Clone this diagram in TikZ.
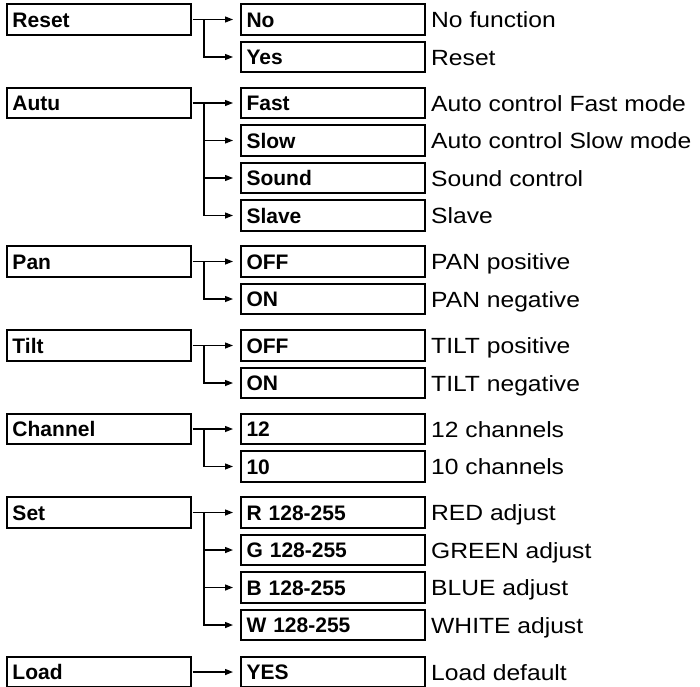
\documentclass[tikz,border=0pt]{standalone}
\usepackage{fontspec}
\setmainfont{Liberation Sans}
\newfontfamily\descfont[FakeStretch=1.12]{Liberation Sans}
\usetikzlibrary{arrows.meta,positioning}

\begin{document}
\begin{tikzpicture}[x=1pt,y=1pt,>={Triangle[length=8pt,width=6pt]},node distance=7pt,
box/.style={draw,line width=1.6pt,outer sep=0pt,minimum height=30.5pt,text width=173pt,inner xsep=5.5pt,inner ysep=0pt,align=left,text height=15pt,text depth=0pt,font=\bfseries\fontsize{21}{24}\selectfont},
desc/.style={anchor=base west,inner sep=0pt,font=\descfont\fontsize{22}{26}\selectfont},
flow/.style={->,line width=1.3pt,shorten <=1.5pt,shorten >=8pt},
branch/.style={->,line width=1.3pt,shorten >=8pt}]
\useasboundingbox (0,0) rectangle (700,-686);
% Reset
\node[box] (reset) at (99,-19.5) {Reset};
\node[box,right=50pt of reset] (rno) {No};
\node[box,below=of rno] (ryes) {Yes};
\node[desc] (drno) at ([xshift=6pt,yshift=-8pt]rno.east) {No function};
\node[desc] (dryes) at ([xshift=6pt,yshift=-8pt]ryes.east) {Reset};
\draw[flow] (reset.east) -- (rno.west);
\draw[branch] ([xshift=13pt]reset.east) |- (ryes.west);
% Autu
\node[box] (autu) at (99,-103) {Autu};
\node[box,right=50pt of autu] (afast) {Fast};
\node[box,below=of afast] (aslow) {Slow};
\node[box,below=of aslow] (asound) {Sound};
\node[box,below=of asound] (aslave) {Slave};
\node[desc] (dafast) at ([xshift=6pt,yshift=-8pt]afast.east) {Auto control Fast mode};
\node[desc] (daslow) at ([xshift=6pt,yshift=-8pt]aslow.east) {Auto control Slow mode};
\node[desc] (dasound) at ([xshift=6pt,yshift=-8pt]asound.east) {Sound control};
\node[desc] (daslave) at ([xshift=6pt,yshift=-8pt]aslave.east) {Slave};
\draw[flow] (autu.east) -- (afast.west);
\draw[branch] ([xshift=13pt]autu.east) |- (aslow.west);
\draw[branch] ([xshift=13pt]autu.east) |- (asound.west);
\draw[branch] ([xshift=13pt]autu.east) |- (aslave.west);
% Pan
\node[box] (pan) at (99,-261.5) {Pan};
\node[box,right=50pt of pan] (poff) {OFF};
\node[box,below=of poff] (pon) {ON};
\node[desc] (dpoff) at ([xshift=6pt,yshift=-8pt]poff.east) {PAN positive};
\node[desc] (dpon) at ([xshift=6pt,yshift=-8pt]pon.east) {PAN negative};
\draw[flow] (pan.east) -- (poff.west);
\draw[branch] ([xshift=13pt]pan.east) |- (pon.west);
% Tilt
\node[box] (tilt) at (99,-345.5) {Tilt};
\node[box,right=50pt of tilt] (toff) {OFF};
\node[box,below=of toff] (ton) {ON};
\node[desc] (dtoff) at ([xshift=6pt,yshift=-8pt]toff.east) {TILT positive};
\node[desc] (dton) at ([xshift=6pt,yshift=-8pt]ton.east) {TILT negative};
\draw[flow] (tilt.east) -- (toff.west);
\draw[branch] ([xshift=13pt]tilt.east) |- (ton.west);
% Channel
\node[box] (chan) at (99,-429) {Channel};
\node[box,right=50pt of chan] (c12) {12};
\node[box,below=of c12] (c10) {10};
\node[desc] (dc12) at ([xshift=6pt,yshift=-8pt]c12.east) {12 channels};
\node[desc] (dc10) at ([xshift=6pt,yshift=-8pt]c10.east) {10 channels};
\draw[flow] (chan.east) -- (c12.west);
\draw[branch] ([xshift=13pt]chan.east) |- (c10.west);
% Set
\node[box] (set) at (99,-512.5) {Set};
\node[box,right=50pt of set] (sr) {R 128-255};
\node[box,below=of sr] (sg) {G 128-255};
\node[box,below=of sg] (sb) {B 128-255};
\node[box,below=of sb] (sw) {W 128-255};
\node[desc] (dsr) at ([xshift=6pt,yshift=-8pt]sr.east) {RED adjust};
\node[desc] (dsg) at ([xshift=6pt,yshift=-8pt]sg.east) {GREEN adjust};
\node[desc] (dsb) at ([xshift=6pt,yshift=-8pt]sb.east) {BLUE adjust};
\node[desc] (dsw) at ([xshift=6pt,yshift=-8pt]sw.east) {WHITE adjust};
\draw[flow] (set.east) -- (sr.west);
\draw[branch] ([xshift=13pt]set.east) |- (sg.west);
\draw[branch] ([xshift=13pt]set.east) |- (sb.west);
\draw[branch] ([xshift=13pt]set.east) |- (sw.west);
% Load
\node[box] (load) at (99,-672) {Load};
\node[box,right=50pt of load] (lyes) {YES};
\node[desc] (dlyes) at ([xshift=6pt,yshift=-8pt]lyes.east) {Load default};
\draw[flow] (load.east) -- (lyes.west);
\end{tikzpicture}
\end{document}
